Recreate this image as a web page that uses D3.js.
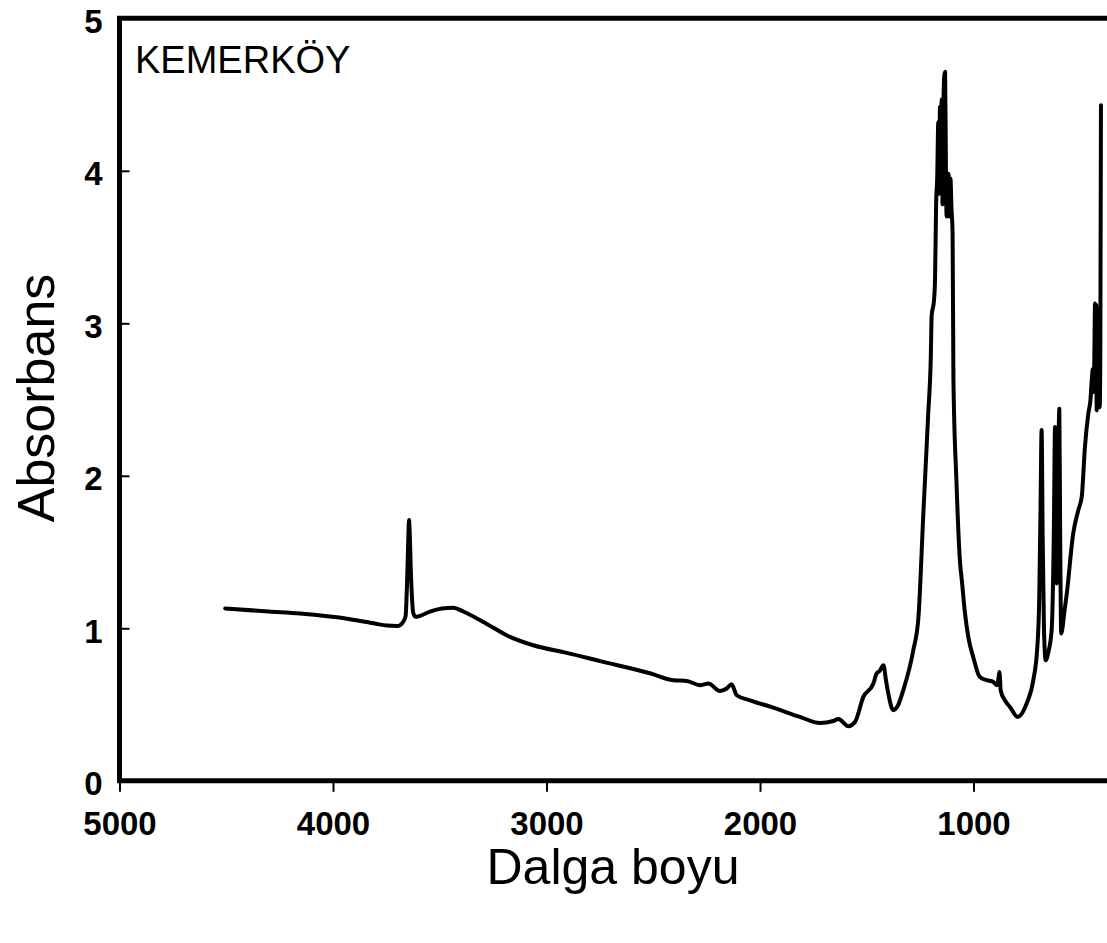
<!DOCTYPE html>
<html>
<head>
<meta charset="utf-8">
<script src="https://cdn.jsdelivr.net/npm/d3@7"></script>
<style>
  html, body { margin: 0; padding: 0; background: #fff; overflow: hidden; }
  svg { display: block; font-family: "Liberation Sans", Arial, sans-serif; }
</style>
</head>
<body>
<svg id="chart" width="1107" height="943"></svg>
<script>
// FT-IR spectrum, Kemerköy sample: wavenumber (cm-1) vs absorbance
const wavenumber = [
  4505, 4300, 4155, 3920, 3800, 3749, 3700, 3686, 3670, 3660,
  3652, 3647, 3644, 3640, 3636, 3630, 3624, 3612, 3600, 3546,
  3490, 3437, 3390, 3296, 3171, 3062, 2905, 2749, 2515, 2406,
  2343, 2281, 2242, 2187, 2156, 2133, 2109, 2047, 1938, 1813,
  1719, 1657, 1633, 1586, 1555, 1516, 1469, 1454, 1440, 1422,
  1410, 1399, 1376, 1355, 1329, 1282, 1258, 1235, 1212, 1200,
  1196, 1185, 1180, 1175, 1170, 1165, 1161, 1157, 1153, 1149,
  1145, 1141, 1137, 1133, 1129, 1126, 1122, 1117, 1113, 1108,
  1103, 1098, 1094, 1080, 1063, 1055, 1040, 1024, 1001, 970,
  938, 907, 891, 882, 879, 875, 873, 853, 829, 793,
  751, 720, 701, 692, 686, 681, 676, 670, 662, 650,
  634, 624, 618, 614, 611, 605, 598, 594, 589, 575,
  563, 533, 509, 493, 478, 462, 452, 446, 441, 437,
  433, 431, 428, 425, 423, 419, 415, 412, 409, 406,
  403
];
const absorbance = [
  1.13, 1.11, 1.097, 1.06, 1.03, 1.018, 1.015, 1.02, 1.045, 1.08,
  1.35, 1.6, 1.71, 1.6, 1.4, 1.2, 1.1, 1.075, 1.078, 1.11,
  1.13, 1.135, 1.11, 1.042, 0.944, 0.889, 0.839, 0.785, 0.705, 0.659,
  0.655, 0.627, 0.638, 0.589, 0.605, 0.633, 0.561, 0.528, 0.48, 0.419,
  0.379, 0.392, 0.405, 0.358, 0.386, 0.55, 0.638, 0.703, 0.72, 0.758,
  0.66, 0.572, 0.463, 0.49, 0.594, 0.856, 1.07, 1.75, 2.41, 2.78,
  3.05, 3.15, 3.3, 3.79, 3.95, 4.32, 3.85, 4.42, 4.0, 4.47,
  3.78, 4.4, 4.62, 4.65, 4.0, 3.7, 3.95, 3.98, 3.7, 3.95,
  3.75, 3.6, 2.63, 1.97, 1.43, 1.32, 1.1, 0.94, 0.81, 0.68,
  0.66, 0.648, 0.627, 0.68, 0.714, 0.65, 0.594, 0.528, 0.484, 0.419,
  0.507, 0.659, 0.878, 1.206, 1.8, 2.3, 1.6, 1.0, 0.79, 0.84,
  0.988, 1.6, 2.32, 1.7, 1.294, 1.8, 2.44, 1.6, 0.966, 1.1,
  1.228, 1.622, 1.775, 1.862, 2.19, 2.41, 2.5, 2.63, 2.7, 2.55,
  2.9, 3.13, 2.75, 3.12, 2.43, 2.95, 2.7, 3.1, 2.45, 2.8,
  4.43
];
const xTicks = [5000, 4000, 3000, 2000, 1000];
const yTicks = [0, 1, 2, 3, 4, 5];
const sampleName = "KEMERKÖY";
const xTitle = "Dalga boyu";
const yTitle = "Absorbans";

const svg = d3.select("#chart");
const W = 1107;

const x = d3.scaleLinear().domain([5000, 0]).range([119.5, 1187]);
const y = d3.scaleLinear().domain([0, 5]).range([780.8, 18.3]);

const points = wavenumber.map((w, i) => ({ w, a: absorbance[i] }));

// spectrum trace
const line = d3.line()
  .x(d => x(d.w))
  .y(d => y(d.a))
  .curve(d3.curveMonotoneX);

svg.append("path")
  .datum(points)
  .attr("d", line)
  .attr("fill", "none")
  .attr("stroke", "#000")
  .attr("stroke-width", 4)
  .attr("stroke-linejoin", "round")
  .attr("stroke-linecap", "round");

const tickFont = sel => sel
  .attr("fill", "#000")
  .style("font-family", "'Liberation Sans', Arial, sans-serif")
  .style("font-size", "33px")
  .style("font-weight", "bold");

// x axis (ticks pointing outward)
const xAxis = svg.append("g")
  .attr("transform", `translate(0,${y(0)})`)
  .call(d3.axisBottom(x).tickValues(xTicks).tickFormat(d3.format("d"))
    .tickSizeInner(11).tickSizeOuter(0).tickPadding(20));
xAxis.select(".domain").remove();
xAxis.selectAll(".tick line").attr("stroke", "#000").attr("stroke-width", 2);
xAxis.selectAll(".tick text").call(tickFont);

// y axis (ticks pointing inward)
const yAxis = svg.append("g")
  .attr("transform", `translate(${x(5000)},0)`)
  .call(d3.axisLeft(y).tickValues(yTicks).tickFormat(d3.format("d"))
    .tickSizeInner(-10).tickSizeOuter(0).tickPadding(17));
yAxis.select(".domain").remove();
yAxis.selectAll(".tick line").attr("stroke", "#000").attr("stroke-width", 2);
yAxis.selectAll(".tick text").call(tickFont).attr("dy", "0.42em");

// frame: top, left and bottom edges
svg.append("path")
  .attr("d", `M${W + 10},${y(5)} H${x(5000)} V${y(0)} H${W + 10}`)
  .attr("fill", "none")
  .attr("stroke", "#000")
  .attr("stroke-width", 5);

// sample name
svg.append("text")
  .attr("x", 135)
  .attr("y", 73)
  .attr("fill", "#000")
  .style("font-size", "38px")
  .text(sampleName);

// axis titles
svg.append("text")
  .attr("x", 613)
  .attr("y", 884)
  .attr("text-anchor", "middle")
  .attr("fill", "#000")
  .style("font-size", "50px")
  .text(xTitle);

svg.append("text")
  .attr("transform", `translate(54,398) rotate(-90)`)
  .attr("text-anchor", "middle")
  .attr("fill", "#000")
  .style("font-size", "52px")
  .text(yTitle);
</script>
</body>
</html>
